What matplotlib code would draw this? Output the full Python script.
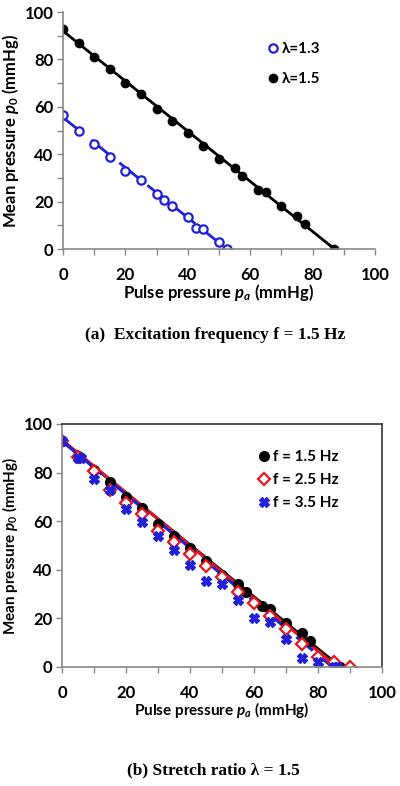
import numpy as np
import matplotlib
matplotlib.use("Agg")
import matplotlib.pyplot as plt

plt.rcParams['font.family'] = ['Lato', 'DejaVu Sans']
plt.rcParams['font.weight'] = 'bold'
plt.rcParams['mathtext.fontset'] = 'custom'
plt.rcParams['mathtext.it'] = 'Lato:italic:bold'
plt.rcParams['mathtext.rm'] = 'Lato:bold'

# (a) data
pa_15 = [0, 5, 10, 15, 20, 25, 30, 35, 40, 45, 50, 55, 57.5, 62.5, 65, 70, 75, 77.5, 87]
p0_15 = [93, 87, 81, 76, 70, 65.5, 59, 54, 49, 43.5, 38, 34, 31, 25, 24, 18, 14, 10.5, 0]
pa_13 = [0, 5, 10, 15, 20, 25, 30, 32.5, 35, 40, 42.5, 45, 50, 52.5]
p0_13 = [56.5, 50, 44.5, 39, 33, 29, 23, 20.5, 18, 13.5, 9, 8.5, 3, 0]

# trend lines (a)
line15_x, line15_y = [0, 87], [92, 0]
line13_x, line13_y = [0, 52.5], [55.5, 0]

# (b) data
pa_f25 = [0, 5, 10, 15, 20, 25, 30, 35, 40, 45, 50, 55, 60, 65, 70, 75, 80, 85, 90]
p0_f25 = [93, 86.5, 80.5, 73, 67.5, 63, 56, 51.5, 46.5, 41.5, 37, 31, 26.5, 21, 15.5, 9.5, 4, 2, 0]
pa_f35 = [0, 5, 6, 10, 15, 20, 25, 30, 35, 40, 45, 50, 55, 60, 65, 70, 75, 80, 85, 86]
p0_f35 = [93, 86, 86, 77.5, 73, 65, 59.5, 54, 48, 42, 35.5, 34, 27.5, 20, 18.5, 11.5, 3.5, 2, 0, 0]

# trend lines (b)
f15_x, f15_y = [0, 87], [93, 0]
f25_x, f25_y = [0, 86], [93.5, 0]
f35_x, f35_y = [0, 84.5], [93, 0]

BLUE = '#2020d8'
RED = '#e8141c'


def style(ax, box, lab_fs, ylab_x):
    ax.set_xlim(0, 100)
    ax.set_ylim(0, 100)
    ax.set_xticks(np.arange(0, 101, 20))
    ax.set_yticks(np.arange(0, 101, 20))
    ax.set_xticks(np.arange(0, 101, 10), minor=True)
    if not box:
        ax.set_yticks(np.arange(0, 101, 10), minor=True)
    ax.tick_params(which='both', direction='out', color='#888888', length=4, width=1)
    ax.tick_params(axis='x', labelsize=12, pad=9)
    ax.tick_params(axis='y', labelsize=12, pad=3)
    for s in ax.spines.values():
        s.set_color('#888888')
        s.set_linewidth(1.2)
    if box:
        for s in ('top', 'right'):
            ax.spines[s].set_color('#333333')
    else:
        ax.spines['top'].set_visible(False)
        ax.spines['right'].set_visible(False)
    ax.set_xlabel('Pulse pressure $p_a$ (mmHg)', fontsize=lab_fs, fontweight='bold', labelpad=-1)
    ax.set_ylabel('Mean pressure $p_0$ (mmHg)', fontsize=lab_fs, fontweight='bold')
    ax.yaxis.set_label_coords(ylab_x, 0.5)


fig = plt.figure(figsize=(4, 7.86), dpi=100)

# (a)
ax1 = fig.add_axes([0.1575, 0.6832, 0.78, 0.3015])
ax1.plot(line15_x, line15_y, color='black', lw=2)
ax1.plot(line13_x, line13_y, color=BLUE, lw=2, dashes=(9, 4))
ax1.plot(pa_13, p0_13, 'o', mfc='white', mec=BLUE, mew=1.6, ms=6, label='λ=1.3')
ax1.plot(pa_15, p0_15, 'o', color='black', ms=6, label='λ=1.5')
style(ax1, False, 12, -0.135)
ax1.legend(loc='upper left', bbox_to_anchor=(0.6, 0.93), frameon=False, fontsize=11,
           handletextpad=0.0, handlelength=1.2, labelspacing=1.05)

fig.text(215 / 400, 1 - 335 / 786, '(a)  Excitation frequency f = 1.5 Hz', ha='center', va='center',
         family='Liberation Serif', fontweight='bold', fontsize=12.5)

# (b)
ax2 = fig.add_axes([0.155, 0.1514, 0.80, 0.3092])
ax2.plot(f15_x, f15_y, color='black', lw=2.2)
ax2.plot(f25_x, f25_y, color=RED, lw=2.2)
ax2.plot(f35_x, f35_y, color=BLUE, lw=2.2, dashes=(7, 3))
ax2.plot(pa_15, p0_15, 'o', color='black', ms=7, label='f = 1.5 Hz')
ax2.plot(pa_f25, p0_f25, 'D', mfc='white', mec=RED, mew=1.6, ms=6.5, label='f = 2.5 Hz')
ax2.plot(pa_f35, p0_f35, 'X', color=BLUE, ms=7, label='f = 3.5 Hz')
style(ax2, True, 11, -0.13)
ax2.legend(loc='upper left', bbox_to_anchor=(0.56, 0.95), frameon=False, fontsize=11,
           handletextpad=0.0, handlelength=1.2, labelspacing=0.6)

fig.text(213 / 400, 1 - 770 / 786, '(b) Stretch ratio λ = 1.5', ha='center', va='center',
         family='Liberation Serif', fontweight='bold', fontsize=12.5)

fig.savefig('out.png', dpi=100)
